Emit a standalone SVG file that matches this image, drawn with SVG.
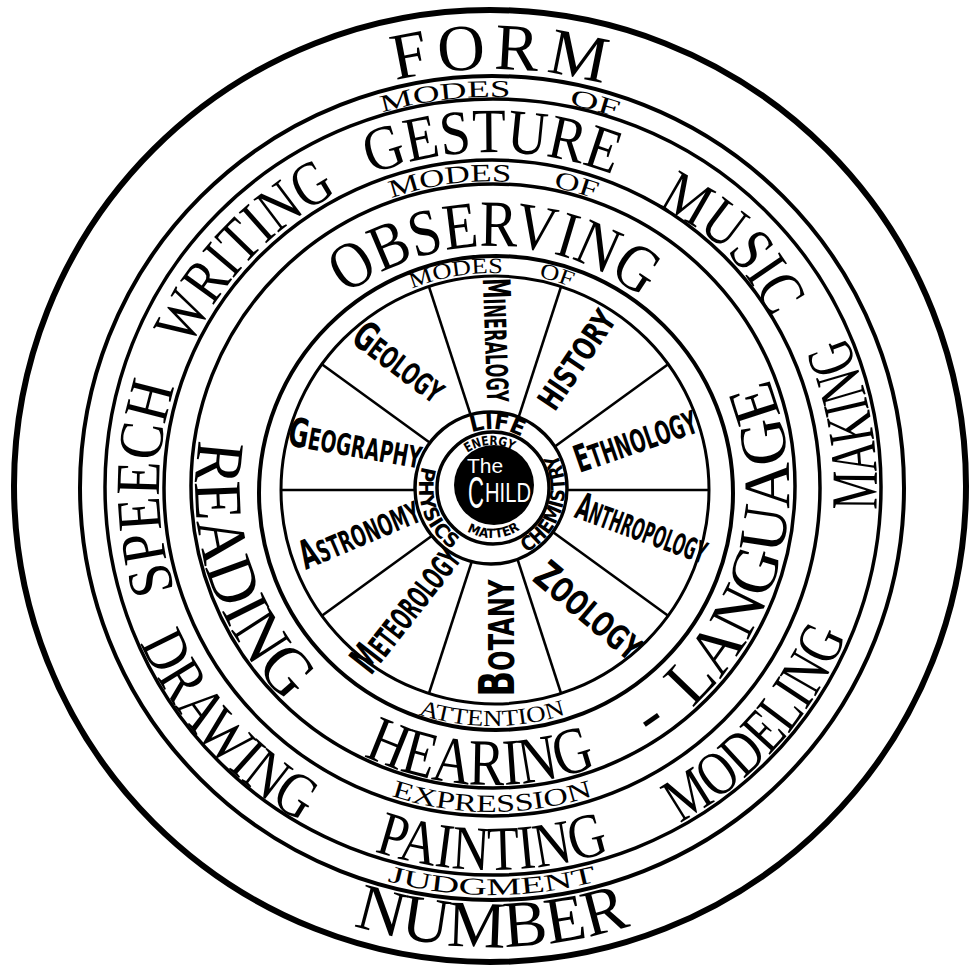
<svg xmlns="http://www.w3.org/2000/svg" xmlns:xlink="http://www.w3.org/1999/xlink" width="973" height="969" viewBox="0 0 973 969">
<style>
.ring{fill:none;stroke:#000}
.spoke{stroke:#000;stroke-width:2.6;fill:none}
.big{font-family:"Liberation Serif","Times New Roman",serif;fill:#000}
.small{font-family:"Liberation Serif","Times New Roman",serif;fill:#000}
.sec{font-family:"DejaVu Sans Condensed","DejaVu Sans",sans-serif;font-weight:bold;fill:#000;text-anchor:middle}
.hub{font-family:"DejaVu Sans Condensed","DejaVu Sans",sans-serif;font-weight:bold;fill:#000}
.child{font-family:"Liberation Sans",Arial,sans-serif;fill:#fff}
</style>
<defs>
<path id="p-form" d="M484.69,906.94 A419,419 0 0 1 499.31,69.06 A419,419 0 0 1 484.69,906.94"/>
<path id="p-number" d="M492,29 A459,459 0 0 0 492,947 A459,459 0 0 0 492,29"/>
<path id="p-modes1" d="M538.29,876.26 A391,391 0 0 1 445.71,99.74 A391,391 0 0 1 538.29,876.26"/>
<path id="p-of1" d="M390.81,865.68 A391,391 0 0 1 593.19,110.32 A391,391 0 0 1 390.81,865.68"/>
<path id="p-judg" d="M492,81 A407,407 0 0 0 492,895 A407,407 0 0 0 492,81"/>
<path id="p-speech" d="M825,488 A333,333 0 0 1 159,488 A333,333 0 0 1 825,488"/>
<path id="p-writing" d="M733.16,717.64 A333,333 0 0 1 250.84,258.36 A333,333 0 0 1 733.16,717.64"/>
<path id="p-gesture" d="M492,824 A336,336 0 0 1 492,152 A336,336 0 0 1 492,824"/>
<path id="p-music" d="M258.59,725.51 A334,334 0 0 1 725.41,250.49 A334,334 0 0 1 258.59,725.51"/>
<path id="p-making" d="M112.85,554.85 A385,385 0 0 0 871.15,421.15 A385,385 0 0 0 112.85,554.85"/>
<path id="p-modeling" d="M204.56,231.90 A385,385 0 0 0 779.44,744.10 A385,385 0 0 0 204.56,231.90"/>
<path id="p-painting" d="M492,106 A382,382 0 0 0 492,870 A382,382 0 0 0 492,106"/>
<path id="p-drawing" d="M778.10,230.38 A385,385 0 0 0 205.90,745.62 A385,385 0 0 0 778.10,230.38"/>
<path id="p-modes2" d="M533.67,792.15 A307,307 0 0 1 450.33,183.85 A307,307 0 0 1 533.67,792.15"/>
<path id="p-of2" d="M409.46,783.71 A307,307 0 0 1 574.54,192.29 A307,307 0 0 1 409.46,783.71"/>
<path id="p-expr" d="M492,164 A324,324 0 0 0 492,812 A324,324 0 0 0 492,164"/>
<path id="p-obs" d="M489.48,729.99 A242,242 0 0 1 494.52,246.01 A242,242 0 0 1 489.48,729.99"/>
<path id="p-reading" d="M773.82,394.27 A297,297 0 0 0 210.18,581.73 A297,297 0 0 0 773.82,394.27"/>
<path id="p-hearing" d="M504.96,191.28 A297,297 0 0 0 479.04,784.72 A297,297 0 0 0 504.96,191.28"/>
<path id="p-dash" d="M323.78,243.24 A297,297 0 0 0 660.22,732.76 A297,297 0 0 0 323.78,243.24"/>
<path id="p-language" d="M202.60,421.17 A297,297 0 0 0 781.40,554.83 A297,297 0 0 0 202.60,421.17"/>
<path id="p-modes3" d="M527.48,700.05 A215,215 0 0 1 456.52,275.95 A215,215 0 0 1 527.48,700.05"/>
<path id="p-of3" d="M428.85,694.56 A216,216 0 0 1 555.15,281.44 A216,216 0 0 1 428.85,694.56"/>
<path id="p-att" d="M492,250 A238,238 0 0 0 492,726 A238,238 0 0 0 492,250"/>
<path id="p-life" d="M486.86,546.78 A59,59 0 0 1 497.14,429.22 A59,59 0 0 1 486.86,546.78"/>
<path id="p-phys" d="M560.60,463.03 A73,73 0 0 0 423.40,512.97 A73,73 0 0 0 560.60,463.03"/>
<path id="p-chem" d="M422.19,466.65 A73,73 0 0 0 561.81,509.35 A73,73 0 0 0 422.19,466.65"/>
<path id="p-energy" d="M494.25,530.94 A43,43 0 0 1 489.75,445.06 A43,43 0 0 1 494.25,530.94"/>
<path id="p-matter" d="M490.25,438.03 A50,50 0 0 0 493.75,537.97 A50,50 0 0 0 490.25,438.03"/>
</defs>
<rect width="973" height="969" fill="#fff"/>

<g id="rings">
<circle class="ring" cx="490" cy="486" r="476" stroke-width="6"/>
<circle class="ring" cx="492" cy="488" r="412" stroke-width="4"/>
<circle class="ring" cx="493" cy="487" r="388" stroke-width="3.5"/>
<circle class="ring" cx="492" cy="488" r="328" stroke-width="3.5"/>
<circle class="ring" cx="493" cy="486" r="302" stroke-width="3.5"/>
<circle class="ring" cx="496" cy="493" r="237" stroke-width="4"/>
<circle class="ring" cx="495" cy="490" r="214" stroke-width="3"/>
</g>

<g id="spokes">
<line class="spoke" x1="513.54" y1="432.93" x2="561.13" y2="286.46"/>
<line class="spoke" x1="543.54" y1="454.73" x2="668.13" y2="364.21"/>
<line class="spoke" x1="555" y1="490" x2="709" y2="490"/>
<line class="spoke" x1="543.54" y1="525.27" x2="668.13" y2="615.79"/>
<line class="spoke" x1="513.54" y1="547.07" x2="561.13" y2="693.54"/>
<line class="spoke" x1="476.46" y1="547.07" x2="428.87" y2="693.54"/>
<line class="spoke" x1="446.46" y1="525.27" x2="321.87" y2="615.79"/>
<line class="spoke" x1="435" y1="490" x2="281" y2="490"/>
<line class="spoke" x1="446.46" y1="454.73" x2="321.87" y2="364.21"/>
<line class="spoke" x1="476.46" y1="432.93" x2="428.87" y2="286.46"/>
</g>

<g id="band-form-number">
<text class="big" font-size="66" text-anchor="middle"><textPath href="#p-form" xlink:href="#p-form" startOffset="50%" textLength="210">FORM</textPath></text>
<text class="big" font-size="66" text-anchor="middle"><textPath href="#p-number" xlink:href="#p-number" startOffset="50%" textLength="282" lengthAdjust="spacingAndGlyphs">NUMBER</textPath></text>
</g>

<g id="band-modes-1">
<text class="small" font-size="24" text-anchor="middle"><textPath href="#p-modes1" xlink:href="#p-modes1" startOffset="50%" textLength="130" lengthAdjust="spacingAndGlyphs">MODES</textPath></text>
<text class="small" font-size="24" text-anchor="middle"><textPath href="#p-of1" xlink:href="#p-of1" startOffset="50%" textLength="50" lengthAdjust="spacingAndGlyphs">OF</textPath></text>
<text class="small" font-size="24" text-anchor="middle"><textPath href="#p-judg" xlink:href="#p-judg" startOffset="50%" textLength="212" lengthAdjust="spacingAndGlyphs">JUDGMENT</textPath></text>
</g>

<g id="band-expression">
<text class="big" font-size="63" text-anchor="middle"><textPath href="#p-speech" xlink:href="#p-speech" startOffset="50%" textLength="207" lengthAdjust="spacingAndGlyphs">SPEECH</textPath></text>
<text class="big" font-size="63" text-anchor="middle"><textPath href="#p-writing" xlink:href="#p-writing" startOffset="50%" textLength="218" lengthAdjust="spacingAndGlyphs">WRITING</textPath></text>
<text class="big" font-size="63" text-anchor="middle"><textPath href="#p-gesture" xlink:href="#p-gesture" startOffset="50%" textLength="248" lengthAdjust="spacingAndGlyphs">GESTURE</textPath></text>
<text class="big" font-size="63" text-anchor="middle"><textPath href="#p-music" xlink:href="#p-music" startOffset="50%" textLength="164" lengthAdjust="spacingAndGlyphs">MUSIC</textPath></text>
<text class="big" font-size="66" text-anchor="middle"><textPath href="#p-making" xlink:href="#p-making" startOffset="50%" textLength="178" lengthAdjust="spacingAndGlyphs">MAKING</textPath></text>
<text class="big" font-size="63" text-anchor="middle"><textPath href="#p-modeling" xlink:href="#p-modeling" startOffset="50%" textLength="255" lengthAdjust="spacingAndGlyphs">MODELING</textPath></text>
<text class="big" font-size="63" text-anchor="middle"><textPath href="#p-painting" xlink:href="#p-painting" startOffset="50%" textLength="240" lengthAdjust="spacingAndGlyphs">PAINTING</textPath></text>
<text class="big" font-size="63" text-anchor="middle"><textPath href="#p-drawing" xlink:href="#p-drawing" startOffset="50%" textLength="245" lengthAdjust="spacingAndGlyphs">DRAWING</textPath></text>
</g>

<g id="band-modes-2">
<text class="small" font-size="25" text-anchor="middle"><textPath href="#p-modes2" xlink:href="#p-modes2" startOffset="50%" textLength="122" lengthAdjust="spacingAndGlyphs">MODES</textPath></text>
<text class="small" font-size="25" text-anchor="middle"><textPath href="#p-of2" xlink:href="#p-of2" startOffset="50%" textLength="44" lengthAdjust="spacingAndGlyphs">OF</textPath></text>
<text class="small" font-size="25" text-anchor="middle"><textPath href="#p-expr" xlink:href="#p-expr" startOffset="50%" textLength="205" lengthAdjust="spacingAndGlyphs">EXPRESSION</textPath></text>
</g>

<g id="band-observing">
<text class="big" font-size="66" text-anchor="middle"><textPath href="#p-obs" xlink:href="#p-obs" startOffset="50%" textLength="318" lengthAdjust="spacingAndGlyphs">OBSERVING</textPath></text>
<text class="big" font-size="68" text-anchor="middle"><textPath href="#p-reading" xlink:href="#p-reading" startOffset="50%" textLength="288" lengthAdjust="spacingAndGlyphs">READING</textPath></text>
<text class="big" font-size="66" text-anchor="middle"><textPath href="#p-hearing" xlink:href="#p-hearing" startOffset="50%" textLength="240" lengthAdjust="spacingAndGlyphs">HEARING</textPath></text>
<text class="big" font-size="66" text-anchor="middle"><textPath href="#p-dash" xlink:href="#p-dash" startOffset="50%">-</textPath></text>
<text class="big" font-size="66" text-anchor="middle"><textPath href="#p-language" xlink:href="#p-language" startOffset="50%" textLength="360" lengthAdjust="spacingAndGlyphs">LANGUAGE</textPath></text>
</g>

<g id="band-modes-3">
<text class="small" font-size="22" text-anchor="middle"><textPath href="#p-modes3" xlink:href="#p-modes3" startOffset="50%" textLength="93" lengthAdjust="spacingAndGlyphs">MODES</textPath></text>
<text class="small" font-size="22" text-anchor="middle"><textPath href="#p-of3" xlink:href="#p-of3" startOffset="50%" textLength="34" lengthAdjust="spacingAndGlyphs">OF</textPath></text>
<text class="small" font-size="23" text-anchor="middle"><textPath href="#p-att" xlink:href="#p-att" startOffset="50%" textLength="150" lengthAdjust="spacingAndGlyphs">ATTENTION</textPath></text>
</g>

<g id="sectors">
<text id="geology" class="sec" transform="translate(398,364) rotate(37)" y="11" font-size="30" textLength="105" lengthAdjust="spacingAndGlyphs"><tspan font-size="40">G</tspan>EOLOGY</text>
<text id="mineralogy" class="sec" transform="translate(496,340) rotate(88)" y="11" font-size="30" textLength="124" lengthAdjust="spacingAndGlyphs"><tspan font-size="38">M</tspan>INERALOGY</text>
<text id="history" class="sec" transform="translate(577,360) rotate(-56)" y="11" font-size="32" textLength="112" lengthAdjust="spacingAndGlyphs">HISTORY</text>
<text id="ethnology" class="sec" transform="translate(636,442) rotate(-19)" y="11" font-size="32" textLength="127" lengthAdjust="spacingAndGlyphs"><tspan font-size="38">E</tspan>THNOLOGY</text>
<text id="anthropology" class="sec" transform="translate(641,531) rotate(20)" y="10" font-size="30" textLength="137" lengthAdjust="spacingAndGlyphs"><tspan font-size="38">A</tspan>NTHROPOLOGY</text>
<text id="zoology" class="sec" transform="translate(588,612) rotate(40)" y="12" font-size="34" textLength="128" lengthAdjust="spacingAndGlyphs"><tspan font-size="40">Z</tspan>OOLOGY</text>
<text id="botany" class="sec" transform="translate(501,638) rotate(-90)" y="13" font-size="36" textLength="117" lengthAdjust="spacingAndGlyphs"><tspan font-size="50">B</tspan>OTANY</text>
<text id="meteorology" class="sec" transform="translate(408,611) rotate(-52)" y="11" font-size="32" textLength="148" lengthAdjust="spacingAndGlyphs"><tspan font-size="42">M</tspan>ETEOROLOGY</text>
<text id="astronomy" class="sec" transform="translate(360,535) rotate(-23)" y="11" font-size="30" textLength="127" lengthAdjust="spacingAndGlyphs"><tspan font-size="40">A</tspan>STRONOMY</text>
<text id="geography" class="sec" transform="translate(355,446) rotate(10)" y="11" font-size="30" textLength="135" lengthAdjust="spacingAndGlyphs"><tspan font-size="40">G</tspan>EOGRAPHY</text>
</g>

<g id="hub">
<circle cx="491" cy="488" r="76" fill="#fff" stroke="#000" stroke-width="3.5"/>
<circle cx="493" cy="488" r="56" fill="#fff" stroke="#000" stroke-width="3.5"/>
<text class="hub" font-size="22" text-anchor="middle"><textPath href="#p-life" xlink:href="#p-life" startOffset="50%" textLength="52" lengthAdjust="spacingAndGlyphs">LIFE</textPath></text>
<text class="hub" font-size="20" text-anchor="middle"><textPath href="#p-phys" xlink:href="#p-phys" startOffset="50%" textLength="95" lengthAdjust="spacingAndGlyphs">PHYSICS</textPath></text>
<text class="hub" font-size="20" text-anchor="middle"><textPath href="#p-chem" xlink:href="#p-chem" startOffset="50%" textLength="115" lengthAdjust="spacingAndGlyphs">CHEMISTRY</textPath></text>
</g>

<g id="child">
<circle cx="494" cy="485" r="40" fill="#000"/>
<text class="hub" font-size="13" text-anchor="middle"><textPath href="#p-energy" xlink:href="#p-energy" startOffset="50%" textLength="48" lengthAdjust="spacingAndGlyphs">ENERGY</textPath></text>
<text class="hub" font-size="13" text-anchor="middle"><textPath href="#p-matter" xlink:href="#p-matter" startOffset="50%" textLength="56" lengthAdjust="spacingAndGlyphs">MATTER</textPath></text>
<text class="child" x="485" y="473" font-size="21" text-anchor="middle">The</text>
<text class="child" x="476" y="508" font-size="44" text-anchor="middle" textLength="16" lengthAdjust="spacingAndGlyphs">C</text>
<text class="child" x="508" y="502" font-size="28" text-anchor="middle" textLength="46" lengthAdjust="spacingAndGlyphs">HILD</text>
</g>
</svg>
